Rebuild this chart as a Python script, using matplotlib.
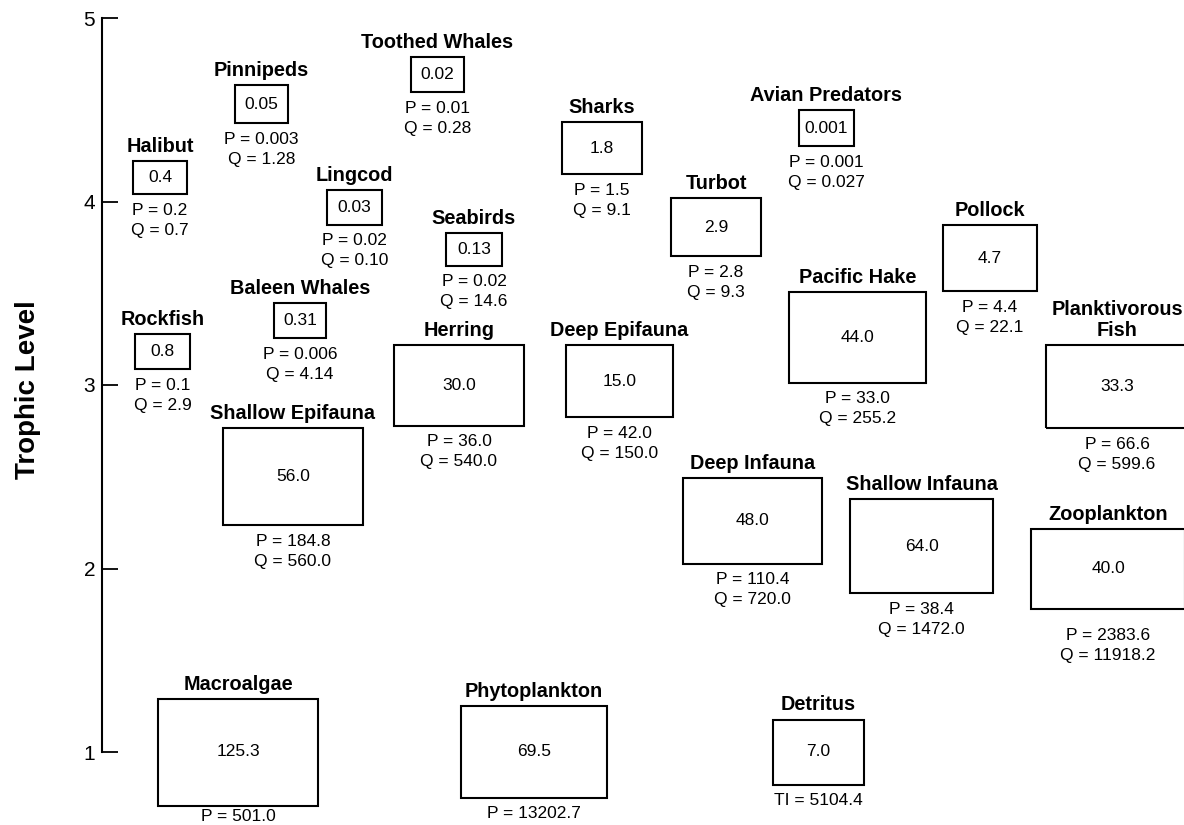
import matplotlib.pyplot as plt
from matplotlib.patches import Rectangle

plt.rcParams['font.family'] = ['Liberation Sans', 'DejaVu Sans']

# functional groups, trophic level, biomass and flows (P = production, Q = consumption)
groups = ['Halibut', 'Pinnipeds', 'Toothed Whales', 'Sharks', 'Avian Predators',
          'Turbot', 'Lingcod', 'Seabirds', 'Pollock', 'Pacific Hake',
          'Baleen Whales', 'Rockfish', 'Herring', 'Deep Epifauna',
          'Planktivorous\nFish', 'Shallow Epifauna', 'Deep Infauna',
          'Shallow Infauna', 'Zooplankton', 'Macroalgae', 'Phytoplankton',
          'Detritus']
trophic_level = [4.13, 4.53, 4.69, 4.29, 4.40,
                 3.86, 3.97, 3.74, 3.69, 3.26,
                 3.35, 3.18, 3.00, 3.02,
                 2.99, 2.50, 2.26,
                 2.12, 2.00, 1.00, 1.00,
                 1.00]
biomass = ['0.4', '0.05', '0.02', '1.8', '0.001',
           '2.9', '0.03', '0.13', '4.7', '44.0',
           '0.31', '0.8', '30.0', '15.0',
           '33.3', '56.0', '48.0',
           '64.0', '40.0', '125.3', '69.5',
           '7.0']
production = ['0.2', '0.003', '0.01', '1.5', '0.001',
              '2.8', '0.02', '0.02', '4.4', '33.0',
              '0.006', '0.1', '36.0', '42.0',
              '66.6', '184.8', '110.4',
              '38.4', '2383.6', '501.0', '13202.7',
              '5104.4']
consumption = ['0.7', '1.28', '0.28', '9.1', '0.027',
               '9.3', '0.10', '14.6', '22.1', '255.2',
               '4.14', '2.9', '540.0', '150.0',
               '599.6', '560.0', '720.0',
               '1472.0', '11918.2', None, None,
               None]

# box placement (pixels)
x_center = [160, 261.5, 437.5, 602, 826.5,
            716, 354.5, 474, 990, 857.5,
            300, 162.5, 459, 619.5,
            1117, 293, 752.5,
            921.5, 1108, 238, 534,
            818.5]
box_w = [54, 53, 53, 80, 55,
         90, 55, 56, 94, 137,
         52, 55, 130, 107,
         142, 140, 139,
         143, 154, 160, 146,
         91]
box_h = [33, 38, 35, 52, 36,
         58, 35, 33, 66, 91,
         35, 35, 81, 72,
         83, 97, 86,
         94, 80, 107, 92,
         65]
# gap between box bottom and the P line, where it differs from the default
label_gap = {'Zooplankton': 27, 'Macroalgae': 11}

fig = plt.figure(figsize=(11.84, 8.25), dpi=100)
ax = fig.add_axes([0, 0, 1, 1])
px = 4 / 734  # trophic units per pixel
ax.set_xlim(0, 1184)
ax.set_ylim(5 - 807 * px, 5 + 18 * px)

for i, name in enumerate(groups):
    x, tl = x_center[i], trophic_level[i]
    w, h = box_w[i], box_h[i] * px
    top, bottom = tl + h / 2, tl - h / 2
    ax.add_patch(Rectangle((x - w / 2, bottom), w, h, fill=False,
                           edgecolor='black', linewidth=1.5, clip_on=False))
    ax.text(x, tl, biomass[i], ha='center', va='center', fontsize=12.5)
    ax.text(x, top + 5 * px, name, ha='center', va='bottom',
            fontsize=14.3, fontweight='bold', linespacing=1.15)

    gap = label_gap.get(name, 16)
    prefix = 'TI' if name == 'Detritus' else 'P'
    ax.text(x, bottom - gap * px, f'{prefix} = {production[i]}',
            ha='center', va='center', fontsize=12.5)
    if consumption[i] is not None:
        ax.text(x, bottom - (gap + 20) * px, f'Q = {consumption[i]}',
                ha='center', va='center', fontsize=12.5)

# trophic level axis
for side in ['top', 'right', 'bottom']:
    ax.spines[side].set_visible(False)
ax.spines['left'].set_position(('data', 102))
ax.spines['left'].set_bounds(1, 5)
ax.spines['left'].set_linewidth(1.5)
ax.set_xticks([])
ax.set_yticks([1, 2, 3, 4, 5])
ax.tick_params(axis='y', direction='in', length=11.5, width=1.3,
               labelsize=15, pad=5)
ax.text(28, 5 - 372 * px, 'Trophic Level', rotation=90, ha='center',
        va='center', fontsize=20, fontweight='bold')

plt.savefig('out.png', dpi=100)
plt.close()
